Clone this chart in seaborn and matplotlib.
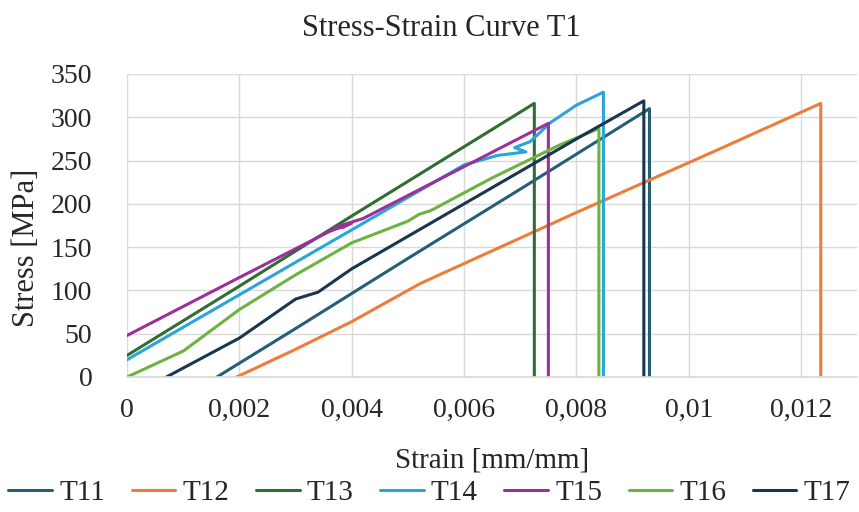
import numpy as np
import pandas as pd
import matplotlib
matplotlib.use("Agg")
import matplotlib.pyplot as plt
import seaborn as sns

# ---- data ----
specimens = ["T11", "T12", "T13", "T14", "T15", "T16", "T17"]

t11_strain = [0.0016, 0.003, 0.005, 0.007, 0.0093, 0.0093]
t11_stress = [0, 56, 137, 217, 310, 0]

t12_strain = [0.00195, 0.003, 0.004, 0.00522, 0.008, 0.0105, 0.01235, 0.01235]
t12_stress = [0, 32, 64, 108, 190, 262, 316, 0]

t13_strain = [0, 0.002, 0.004, 0.006, 0.00725, 0.00725]
t13_stress = [25, 105, 186, 266, 316, 0]

t14_strain = [0, 0.002, 0.004, 0.006, 0.0066, 0.0071, 0.0069, 0.00718, 0.00754, 0.0080, 0.00848, 0.00848]
t14_stress = [20, 95, 170, 245, 256, 260, 265, 272, 294, 314, 329, 0]

t15_strain = [0, 0.002, 0.0036, 0.0040, 0.00385, 0.0037, 0.0039, 0.0042, 0.006, 0.0075, 0.0075]
t15_stress = [48, 115, 168, 178, 173, 172, 177, 183, 243, 293, 0]

t16_strain = [0, 0.001, 0.002, 0.003, 0.004, 0.005, 0.0052, 0.0054, 0.0065, 0.0077, 0.0084, 0.0084]
t16_stress = [0, 30, 78, 118, 155, 180, 188, 192, 230, 268, 287, 0]

t17_strain = [0.0007, 0.002, 0.003, 0.0034, 0.004, 0.006, 0.008, 0.0092, 0.0092]
t17_stress = [0, 45, 90, 98, 125, 200, 275, 319, 0]

colors = ["#255e79", "#ec7d3a", "#2f6e33", "#2aa5dc", "#9d2f9b", "#6cb33f", "#1a3550"]

x_ticks = [0, 0.002, 0.004, 0.006, 0.008, 0.01, 0.012]
x_tick_labels = ["0", "0,002", "0,004", "0,006", "0,008", "0,01", "0,012"]
y_ticks = [0, 50, 100, 150, 200, 250, 300, 350]

strains = [t11_strain, t12_strain, t13_strain, t14_strain, t15_strain, t16_strain, t17_strain]
stresses = [t11_stress, t12_stress, t13_stress, t14_stress, t15_stress, t16_stress, t17_stress]

rows = []
for name, xs, ys in zip(specimens, strains, stresses):
    for i, (x, y) in enumerate(zip(xs, ys)):
        rows.append({"Specimen": name, "order": i, "Strain": x, "Stress": y})
df = pd.DataFrame(rows)

sns.set_theme(style="white")
plt.rcParams["font.family"] = ["Liberation Serif", "DejaVu Serif"]

fig = plt.figure(figsize=(8.59, 5.12), dpi=100)
ax = fig.add_axes([0.148, 0.2637, 0.850, 0.5918])

sns.lineplot(data=df, x="Strain", y="Stress", hue="Specimen", hue_order=specimens,
             palette=colors, estimator=None, sort=False, linewidth=2.2, ax=ax)

ax.set_xlim(0, 0.013)
ax.set_ylim(0, 350)
ax.set_xticks(x_ticks)
ax.set_xticklabels(x_tick_labels)
ax.set_yticks(y_ticks)
ax.grid(True, color="#d9d9d9", linewidth=1.0)
ax.set_axisbelow(True)
for s in ["top", "right", "left"]:
    ax.spines[s].set_visible(False)
ax.spines["bottom"].set_color("#d9d9d9")
ax.tick_params(axis="both", length=0, labelsize=20, colors="#262626")
ax.tick_params(axis="y", pad=25)
ax.tick_params(axis="x", pad=15)

ax.set_xlabel("Strain [mm/mm]", fontsize=21, color="#262626", labelpad=18)
ax.set_ylabel("")
fig.text(27 / 859, 1 - 248 / 512, "Stress [MPa]", rotation=90, ha="center", va="center",
         fontsize=22, color="#262626")
fig.text(441 / 859, 1 - 28 / 512, "Stress-Strain Curve T1", ha="center", va="center",
         fontsize=22, color="#262626")

ax.legend_.remove()
handles, labels = ax.get_legend_handles_labels()
fig.legend(handles, labels, loc="center", bbox_to_anchor=(0.5, 0.037), ncol=7,
           frameon=False, fontsize=21, handlelength=1.5, handletextpad=0.25,
           columnspacing=0.9, labelcolor="#262626")

fig.savefig("out.png", dpi=100)
